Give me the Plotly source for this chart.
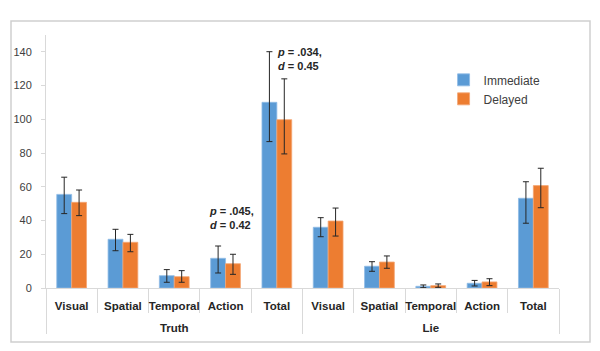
import plotly.graph_objects as go

groups = ["Truth"] * 5 + ["Lie"] * 5
categories = ["Visual", "Spatial", "Temporal", "Action", "Total"] * 2

immediate = [55.5, 28.9, 7.3, 17.6, 110.1, 36.0, 12.9, 1.0, 2.8, 53.2]
immediate_err_up = [10.2, 5.9, 3.6, 7.3, 30.0, 5.7, 2.7, 0.8, 1.7, 9.8]
immediate_err_down = [11.4, 6.8, 3.9, 8.7, 23.3, 5.6, 3.0, 0.8, 1.6, 14.8]

delayed = [50.8, 27.1, 6.7, 14.4, 99.8, 39.7, 15.4, 1.4, 3.6, 60.7]
delayed_err_up = [7.3, 4.7, 3.6, 5.6, 24.2, 7.7, 3.6, 1.0, 1.9, 10.3]
delayed_err_down = [7.9, 5.6, 3.3, 6.3, 20.3, 8.9, 3.7, 1.0, 2.2, 13.1]

y_ticks = [0, 20, 40, 60, 80, 100, 120, 140]

BLUE = "#5B9BD5"
ORANGE = "#ED7D31"
FONT = "Liberation Sans"

# leading line break pushes the outer (group) labels down like in Excel
group_labels = ["<br>" + g for g in groups]
x = [group_labels, categories]

fig = go.Figure()
fig.add_trace(go.Bar(
    x=x, y=immediate, name="Immediate",
    marker=dict(color=BLUE, line=dict(color="#8FBBE6", width=0.8)),
    error_y=dict(type="data", symmetric=False, array=immediate_err_up,
                 arrayminus=immediate_err_down, color="#262626",
                 thickness=1, width=3),
))
fig.add_trace(go.Bar(
    x=x, y=delayed, name="Delayed",
    marker=dict(color=ORANGE, line=dict(color="#F4A673", width=0.8)),
    error_y=dict(type="data", symmetric=False, array=delayed_err_up,
                 arrayminus=delayed_err_down, color="#262626",
                 thickness=1, width=3),
))

fig.update_layout(
    width=600, height=351,
    margin=dict(l=46, r=41, t=35, b=63),
    paper_bgcolor="white", plot_bgcolor="white",
    barmode="group", bargap=0.42, bargroupgap=0,
    font=dict(family=FONT, size=11, color="#262626"),
    showlegend=True,
    legend=dict(x=0.775, y=0.88, xanchor="left", yanchor="top",
                font=dict(size=12, color="#404040"),
                bgcolor="rgba(0,0,0,0)", itemwidth=30),
)

fig.update_yaxes(
    range=[0, 150], tickvals=y_ticks, showgrid=False, zeroline=False,
    showline=True, linecolor="#D9D9D9", linewidth=1,
    ticks="outside", ticklen=4, tickcolor="#D9D9D9", ticklabelstandoff=7,
    tickfont=dict(size=11, color="#404040"), automargin=False,
)
fig.update_xaxes(
    type="multicategory", showgrid=False, automargin=False, tickangle=0,
    showline=True, linecolor="#D9D9D9", linewidth=1,
    ticks="outside", tickson="boundaries", ticklen=24, tickcolor="#D9D9D9",
    ticklabelstandoff=7,
    showdividers=True, dividercolor="#D9D9D9", dividerwidth=1,
    tickfont=dict(size=11.5, color="#262626", family=FONT, weight="bold"),
)

fig.add_annotation(
    xref="paper", yref="y", x=0.446, y=135.8, xanchor="left", yanchor="middle",
    text="<b><i>p</i> = .034,</b><br><b><i>d</i> = 0.45</b>",
    showarrow=False, align="left", font=dict(size=11, color="#262626"),
)
fig.add_annotation(
    xref="paper", yref="y", x=0.313, y=41.5, xanchor="left", yanchor="middle",
    text="<b><i>p</i> = .045,</b><br><b><i>d</i> = 0.42</b>",
    showarrow=False, align="left", font=dict(size=11, color="#262626"),
)

# chart area border
fig.add_shape(type="rect", xref="paper", yref="paper",
              x0=(11 - 46) / 513, x1=(590 - 46) / 513,
              y0=(288 - 342) / 253, y1=(288 - 21) / 253,
              line=dict(color="#CFCFCF", width=1.5), fillcolor="rgba(0,0,0,0)",
              layer="below")

fig.write_html("out.html")
